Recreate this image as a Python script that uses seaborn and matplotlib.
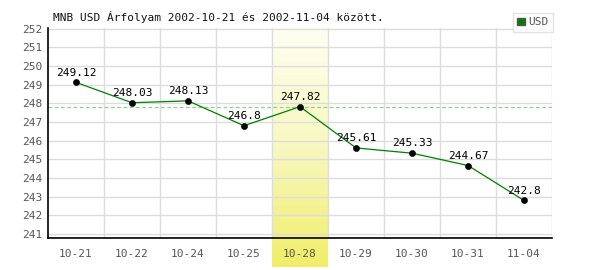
import numpy as np
import pandas as pd
import matplotlib
matplotlib.use("Agg")
import matplotlib.pyplot as plt
import matplotlib.patches as mpatches
import matplotlib.transforms as mtransforms
import seaborn as sns

dates = ["10-21", "10-22", "10-24", "10-25", "10-28", "10-29", "10-30", "10-31", "11-04"]
usd = [249.12, 248.03, 248.13, 246.8, 247.82, 245.61, 245.33, 244.67, 242.8]
value_labels = ["249.12", "248.03", "248.13", "246.8", "247.82", "245.61", "245.33", "244.67", "242.8"]
highlight_date = "10-28"
ref_level = 247.8
title = "MNB USD Árfolyam 2002-10-21 és 2002-11-04 között."

sns.set_style("white")
plt.rcParams['font.family'] = ['DejaVu Sans Mono', 'DejaVu Sans']

df = pd.DataFrame({"date": dates, "usd": usd})
df["pos"] = np.arange(len(dates))

fig = plt.figure(figsize=(6, 2.7), dpi=100)
ax = fig.add_axes([48/600, 1-238/270, 504/600, 210/270])

ax.set_xlim(-0.5, len(dates) - 0.5)
ax.set_ylim(240.79, 252.03)

# highlight gradient band
hi = dates.index(highlight_date)
grad = np.linspace(0, 1, 256).reshape(-1, 1)
cmap = matplotlib.colors.LinearSegmentedColormap.from_list("y", ["#fffff2", "#f8f8c0", "#f0ee68"])
trans = mtransforms.blended_transform_factory(ax.transData, ax.transAxes)
im = ax.imshow(grad, aspect="auto", cmap=cmap, extent=[hi - 0.5, hi + 0.5, -0.14, 1.0],
               transform=trans, clip_on=False, zorder=0, origin="upper")

# grid
for y in range(241, 253):
    ax.axhline(y, color="#dddddd", lw=1, zorder=1)
for b in np.arange(0.5, len(dates) - 0.5, 1):
    ax.axvline(b, color="#dddddd", lw=1, zorder=1)
ax.axvline(len(dates) - 0.5, color="#dddddd", lw=1, zorder=1)

ax.axhline(ref_level, color="#8fd08f", lw=0.9, ls=(0, (3, 2)), zorder=2)

sns.lineplot(data=df, x="pos", y="usd", ax=ax, color="#008000", lw=0.9, zorder=3, legend=False)
sns.scatterplot(data=df, x="pos", y="usd", ax=ax, color="black", s=20, edgecolor="black", zorder=4, legend=False)

for p, v, lab in zip(df["pos"], usd, value_labels):
    ax.annotate(lab, (p, v), xytext=(0, 3.5), textcoords="offset points", ha="center", va="bottom",
                fontsize=8, color="black", zorder=5)

ax.set_xticks(df["pos"])
ax.set_xticklabels(dates)
ax.set_yticks(range(241, 253))
ax.tick_params(axis="both", length=0, labelsize=8, colors="#555555", pad=4)
ax.tick_params(axis="x", pad=8)
ax.set_xlabel("")
ax.set_ylabel("")
for s in ["top", "right"]:
    ax.spines[s].set_visible(False)
for s in ["left", "bottom"]:
    ax.spines[s].set_color("black")
    ax.spines[s].set_linewidth(1.2)

fig.text(53/600, 1-17/270, title, fontsize=8, color="#111111", va="center", ha="left")

handle = mpatches.Patch(facecolor="#008000", edgecolor="#555555", label="USD")
leg = fig.legend(handles=[handle], loc="upper right", bbox_to_anchor=(553/600, 1-13/270),
                 fontsize=8, frameon=True, fancybox=False, handlelength=0.7, handleheight=0.7,
                 handletextpad=0.3, borderpad=0.4, borderaxespad=0)
leg.get_frame().set_edgecolor("#dddddd")
leg.get_frame().set_linewidth(1)
for t in leg.get_texts():
    t.set_color("#555555")

fig.savefig("out.png", dpi=100)
